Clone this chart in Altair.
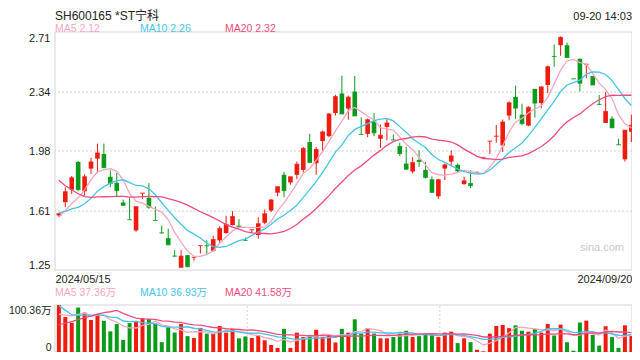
import altair as alt
import pandas as pd

FONT = "Liberation Sans, Arial, Noto Sans CJK SC, sans-serif"

# ---------------- texts / tick labels ----------------
title_text = "SH600165 *ST宁科"
time_text = "09-20 14:03"
date_labels = ["2024/05/15", "2024/09/20"]
price_ma_labels = ["MA5 2.12", "MA10 2.26", "MA20 2.32"]
vol_ma_labels = ["MA5 37.36万", "MA10 36.93万", "MA20 41.58万"]
price_ticks = [1.25, 1.61, 1.98, 2.34, 2.71]
price_grid = [1.61, 1.98, 2.34]
vol_max = 100.36
vol_tick_labels = ["0", "100.36万"]
watermark = "sina.com"

# ---------------- daily data ----------------
open_ = [1.585, 1.666, 1.743, 1.913, 1.733, 1.872, 1.933, 1.962, 1.822, 1.785,
         1.664, 1.560, 1.493, 1.720, 1.692, 1.556, 1.479, 1.445, 1.337, 1.264,
         1.341, 1.327, 1.398, 1.400, 1.368, 1.432, 1.477, 1.526, 1.522, 1.434,
         1.495, 1.465, 1.540, 1.615, 1.724, 1.834, 1.787, 1.834, 1.864, 2.035,
         1.905, 2.041, 2.071, 2.213, 2.333, 2.240, 2.345, 2.083, 2.085, 2.162,
         2.055, 2.128, 2.049, 2.010, 1.903, 1.854, 1.925, 1.864, 1.806, 1.702,
         1.872, 1.915, 1.895, 1.777, 1.783, 1.850, 1.941, 2.039, 2.069, 2.014,
         2.197, 2.312, 2.203, 2.136, 2.361, 2.274, 2.385, 2.562, 2.629, 2.629,
         2.424, 2.546, 2.511, 2.440, 2.268, 2.152, 2.179, 2.020, 1.929, 2.098]
close = [1.595, 1.730, 1.816, 1.743, 1.822, 1.913, 1.968, 1.877, 1.781, 1.737,
         1.647, 1.558, 1.639, 1.722, 1.635, 1.554, 1.477, 1.404, 1.335, 1.335,
         1.270, 1.329, 1.400, 1.398, 1.437, 1.505, 1.530, 1.578, 1.514, 1.432,
         1.497, 1.534, 1.595, 1.680, 1.761, 1.737, 1.822, 1.899, 1.996, 1.909,
         1.990, 2.097, 2.207, 2.314, 2.207, 2.310, 2.195, 2.081, 2.172, 2.091,
         2.077, 2.152, 2.047, 1.964, 1.868, 1.909, 1.915, 1.818, 1.726, 1.804,
         1.895, 1.950, 1.858, 1.797, 1.767, 1.850, 1.941, 2.041, 2.071, 2.158,
         2.276, 2.243, 2.148, 2.248, 2.274, 2.373, 2.497, 2.560, 2.677, 2.554,
         2.422, 2.396, 2.513, 2.385, 2.266, 2.223, 2.122, 2.018, 2.108, 2.138]
high = [1.600, 1.757, 1.826, 1.919, 1.838, 1.939, 2.025, 2.025, 1.862, 1.846,
        1.682, 1.696, 1.639, 1.722, 1.783, 1.639, 1.522, 1.503, 1.372, 1.372,
        1.341, 1.329, 1.400, 1.432, 1.461, 1.518, 1.583, 1.611, 1.562, 1.449,
        1.497, 1.574, 1.621, 1.684, 1.761, 1.852, 1.822, 1.915, 2.004, 2.085,
        2.004, 2.106, 2.213, 2.325, 2.442, 2.320, 2.440, 2.187, 2.179, 2.213,
        2.142, 2.179, 2.081, 2.030, 2.006, 1.943, 1.984, 1.913, 1.824, 1.808,
        1.903, 1.984, 1.903, 1.822, 1.862, 1.852, 1.943, 2.041, 2.140, 2.173,
        2.284, 2.381, 2.270, 2.254, 2.361, 2.379, 2.503, 2.633, 2.683, 2.645,
        2.424, 2.546, 2.513, 2.440, 2.323, 2.341, 2.193, 2.055, 2.108, 2.203]
low = [1.575, 1.635, 1.716, 1.733, 1.706, 1.838, 1.844, 1.877, 1.757, 1.696,
       1.643, 1.558, 1.484, 1.686, 1.625, 1.554, 1.473, 1.404, 1.331, 1.264,
       1.270, 1.307, 1.351, 1.341, 1.362, 1.416, 1.473, 1.522, 1.510, 1.428,
       1.477, 1.443, 1.530, 1.605, 1.702, 1.696, 1.773, 1.808, 1.848, 1.909,
       1.834, 1.976, 2.065, 2.197, 2.207, 2.172, 2.195, 2.081, 2.065, 2.071,
       2.000, 2.045, 2.047, 1.950, 1.864, 1.842, 1.883, 1.812, 1.722, 1.686,
       1.802, 1.889, 1.848, 1.773, 1.753, 1.848, 1.939, 1.962, 2.031, 1.974,
       2.168, 2.177, 2.138, 2.132, 2.185, 2.243, 2.335, 2.497, 2.564, 2.554,
       2.422, 2.345, 2.426, 2.385, 2.262, 2.152, 2.122, 2.018, 1.915, 2.035]
# volume in 万 shares
volume = [100.36, 74.6, 62.4, 94.9, 84.1, 68.5, 81.4, 66.5, 44.1, 59.7,
          25.8, 61.7, 65.1, 71.9, 70.5, 61.0, 21.0, 52.9, 41.4, 59.7,
          33.9, 29.8, 51.5, 39.3, 40.7, 55.6, 41.4, 49.5, 29.2, 33.2,
          29.8, 35.9, 25.1, 14.9, 8.8, 49.5, 8.8, 41.4, 31.9, 36.6,
          47.5, 31.9, 36.6, 20.3, 49.5, 41.4, 69.8, 39.3, 50.9, 39.3,
          29.2, 29.2, 31.9, 39.3, 45.4, 31.9, 33.9, 39.3, 39.3, 31.9,
          41.4, 43.4, 19.0, 29.2, 21.0, 4.7, 1.4, 39.3, 55.6, 57.6,
          50.9, 57.0, 45.4, 43.4, 49.5, 41.4, 60.0, 35.3, 58.5, 21.0,
          2.7, 63.0, 67.0, 36.3, 13.6, 55.0, 31.9, 8.8, 57.0, 34.0]
# days before the visible window (only feed the moving averages), estimated
prior_close = [2.40, 2.30, 2.24, 2.17, 2.00, 1.92, 1.85, 1.78, 1.70, 1.64,
               1.64, 1.66, 1.65, 1.60, 1.58, 1.525, 1.60, 1.57, 1.58]
prior_volume = [2.0, 1.5, 1.8, 2.2, 1.6, 2.5, 3.0, 2.4, 3.0, 150,
                170, 160, 110, 80, 65, 85, 70, 80, 69.6]

# ---------------- styles ----------------
UP, DOWN = "#EE1B0F", "#0A9B1B"
MA_COLORS = ["#F8A6BF", "#45C4E8", "#EF4B7F"]
GRID = "#E2E2E2"
BORDER = "#D3D3D3"
TEXT = "#222222"

n = len(close)
candles = pd.DataFrame({"idx": list(range(n)), "open": open_, "close": close,
                        "high": high, "low": low, "vol": volume})
candles["dir"] = ["up" if c >= o else "down" for o, c in zip(open_, close)]
hist = pd.DataFrame({"idx": list(range(-len(prior_close), n)),
                     "close": prior_close + close,
                     "vol": prior_volume + volume})

W, H = 577, 320
X_DOMAIN = [-0.6, n - 0.9]
PRICE_RANGE = [238, 0]
VOL_RANGE = [320, 273]

xs = alt.Scale(domain=X_DOMAIN, nice=False, zero=False, padding=0)
xax = alt.Axis(values=X_DOMAIN, labelExpr=f"datum.value < 0 ? '{date_labels[0]}' : '{date_labels[1]}'",
               labelFlush=True, domain=False, ticks=False, grid=False, offset=-(H - PRICE_RANGE[0]),
               labelPadding=3, labelFontSize=11, labelColor=TEXT, labelFont=FONT, title=None)
x_enc = alt.X("idx:Q", scale=xs, axis=xax)

ps = alt.Scale(domain=[price_ticks[0], price_ticks[-1]], range=PRICE_RANGE, nice=False, zero=False)
pax = alt.Axis(orient="left", values=price_ticks, format=".2f", labelFlush=True, domain=False, ticks=False,
               grid=False, labelPadding=5, labelFontSize=11, labelColor=TEXT, labelFont=FONT, title=None)
vs = alt.Scale(domain=[0, vol_max], range=VOL_RANGE, nice=False, zero=True)
vax = alt.Axis(orient="left", values=[0, vol_max],
               labelExpr=f"datum.value == 0 ? '{vol_tick_labels[0]}' : '{vol_tick_labels[1]}'",
               labelFlush=True, domain=False, ticks=False, grid=False, labelPadding=4,
               labelFontSize=10.5, labelColor=TEXT, labelFont=FONT, title=None)
dir_color = alt.Color("dir:N", scale=alt.Scale(domain=["up", "down"], range=[UP, DOWN]), legend=None)

one = pd.DataFrame({"k": [0]})

# ---------------- price panel ----------------
p_grid = alt.Chart(pd.DataFrame({"g": price_grid})).mark_rule(
    color=GRID, strokeDash=[2, 2], strokeWidth=1.5).encode(y=alt.Y("g:Q", scale=ps, axis=pax))
p_box = alt.Chart(one).mark_rect(fill="transparent", stroke=BORDER, strokeWidth=1).encode(
    x=alt.X(datum=X_DOMAIN[0], scale=xs, axis=xax), x2=alt.datum(X_DOMAIN[1]),
    y=alt.datum(price_ticks[-1]), y2=alt.datum(price_ticks[0]))
base = alt.Chart(candles)
wick = base.mark_rule(strokeWidth=1).encode(x=x_enc, y=alt.Y("low:Q", scale=ps, axis=pax), y2="high:Q",
                                            color=dir_color)
body = base.mark_bar(size=4.6).encode(x=x_enc, y=alt.Y("open:Q", scale=ps, axis=pax), y2="close:Q",
                                      color=dir_color)
flat = base.mark_tick(orient="horizontal", size=4.6, thickness=1).encode(
    x=x_enc, y=alt.Y("close:Q", scale=ps, axis=pax), color=dir_color)

ma_base = (alt.Chart(hist)
           .transform_window(ma5="mean(close)", frame=[-4, 0], sort=[alt.SortField("idx")])
           .transform_window(ma10="mean(close)", frame=[-9, 0], sort=[alt.SortField("idx")])
           .transform_window(ma20="mean(close)", frame=[-19, 0], sort=[alt.SortField("idx")])
           .transform_filter("datum.idx >= 0"))
ma_lines = [ma_base.mark_line(color=c, strokeWidth=1.3).encode(x=x_enc, y=alt.Y(f"{f}:Q", scale=ps, axis=pax))
            for f, c in zip(["ma5", "ma10", "ma20"], MA_COLORS)]

price = alt.layer(p_grid, p_box, wick, body, flat, *ma_lines)

# ---------------- volume panel ----------------
v_box = alt.Chart(one).mark_rect(fill="transparent", stroke=BORDER, strokeWidth=1).encode(
    x=alt.X(datum=X_DOMAIN[0], scale=xs, axis=xax), x2=alt.datum(X_DOMAIN[1]),
    y=alt.Y(datum=vol_max, scale=vs, axis=vax), y2=alt.datum(0))
span = X_DOMAIN[1] - X_DOMAIN[0]
v_grid = alt.Chart(pd.DataFrame({"gx": [X_DOMAIN[0] + span / 3, X_DOMAIN[0] + 2 * span / 3]})).mark_rule(
    color=GRID, strokeDash=[2, 2], strokeWidth=1.5).encode(
    x=alt.X("gx:Q", scale=xs, axis=xax),
    y=alt.Y(datum=0, scale=vs, axis=vax), y2=alt.datum(vol_max))
vbars = base.mark_bar(size=4.0).encode(x=x_enc, y=alt.Y("vol:Q", scale=vs, axis=vax), color=dir_color)
vma_base = (alt.Chart(hist)
            .transform_window(m5="mean(vol)", frame=[-4, 0], sort=[alt.SortField("idx")])
            .transform_window(m10="mean(vol)", frame=[-9, 0], sort=[alt.SortField("idx")])
            .transform_window(m20="mean(vol)", frame=[-19, 0], sort=[alt.SortField("idx")])
            .transform_filter("datum.idx >= 0"))
vma_lines = [vma_base.mark_line(color=c, strokeWidth=1.3).encode(x=x_enc, y=alt.Y(f"{f}:Q", scale=vs, axis=vax))
             for f, c in zip(["m5", "m10", "m20"], MA_COLORS)]
vol = alt.layer(v_box, v_grid, vbars, *vma_lines)


# ---------------- texts ----------------
def label(txt, x, y, color, size=11, align="left"):
    return alt.Chart(pd.DataFrame({"t": [txt]})).mark_text(
        align=align, baseline="alphabetic", fontSize=size, color=color, font=FONT).encode(
        x=alt.value(x), y=alt.value(y), text="t:N")


texts = [label(title_text, 0, -12.5, TEXT, size=12),
         label(time_text, W, -12.5, TEXT, size=11, align="right"),
         label(watermark, W - 8, 219, "#C8C8C8", size=11, align="right")]
for i, (t, c) in enumerate(zip(price_ma_labels, MA_COLORS)):
    texts.append(label(t, 85 * i, -0.5, c, size=10.5))
for i, (t, c) in enumerate(zip(vol_ma_labels, MA_COLORS)):
    texts.append(label(t, 85 * i, 264, c, size=10.5))

chart = (alt.layer(price, vol, *texts)
         .resolve_scale(y="independent")
         .properties(width=W, height=H, background="white",
                     padding={"left": 47, "top": 24, "right": 0, "bottom": 0},
                     autosize=alt.AutoSizeParams(type="none"))
         .configure_view(stroke=None))

chart.save("out.html", embed_options={"renderer": "svg", "actions": False})
